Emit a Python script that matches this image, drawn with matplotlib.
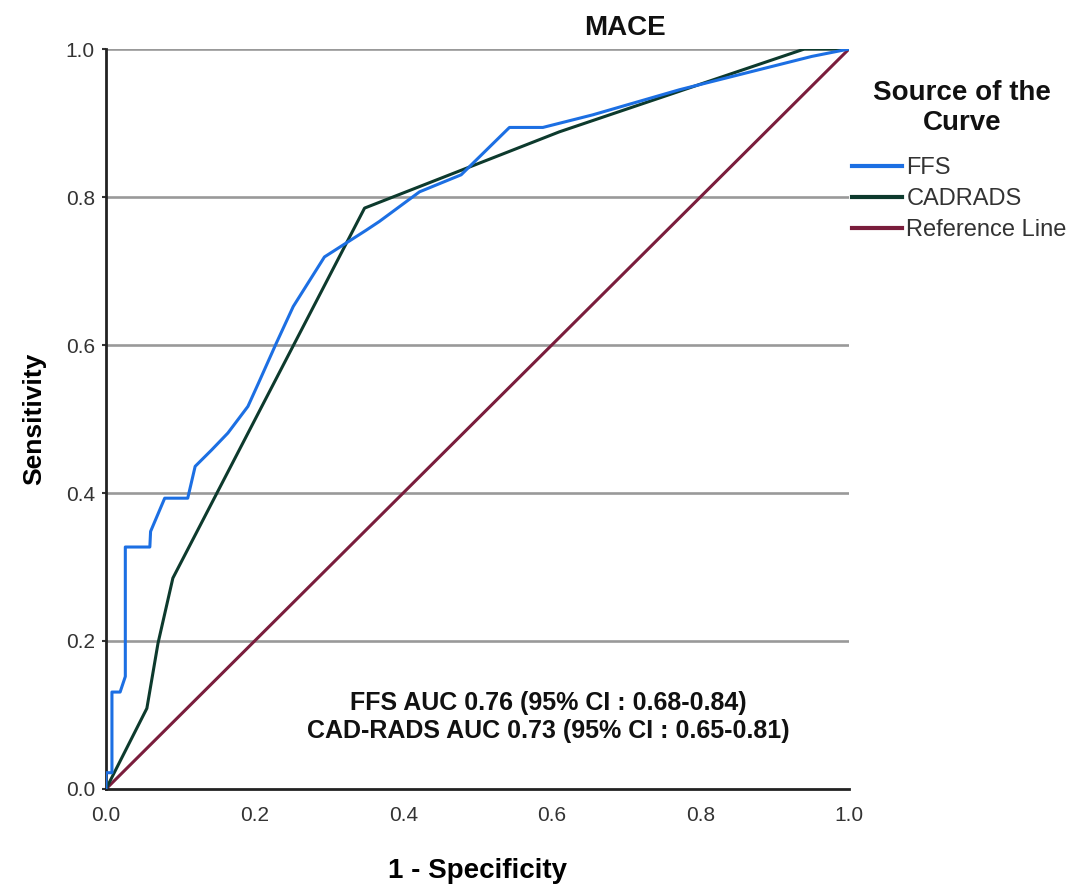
import matplotlib
matplotlib.use("Agg")
import matplotlib.pyplot as plt

plt.rcParams['font.family'] = ['Liberation Sans', 'DejaVu Sans']

# ---- data ----
ffs_fpr = [0.0, 0.0, 0.008, 0.008, 0.019, 0.026, 0.026, 0.059, 0.060, 0.079, 0.110,
           0.120, 0.142, 0.164, 0.191, 0.205, 0.229, 0.252, 0.294, 0.350, 0.368,
           0.422, 0.478, 0.543, 0.588, 0.655, 0.772, 0.950, 1.0]
ffs_tpr = [0.0, 0.022, 0.022, 0.131, 0.131, 0.152, 0.327, 0.327, 0.348, 0.393, 0.393,
           0.436, 0.458, 0.481, 0.517, 0.548, 0.602, 0.652, 0.719, 0.755, 0.767,
           0.807, 0.830, 0.894, 0.894, 0.911, 0.945, 0.990, 1.0]

cad_fpr = [0.0, 0.055, 0.070, 0.090, 0.348, 0.610, 0.940, 1.0]
cad_tpr = [0.0, 0.109, 0.197, 0.285, 0.785, 0.888, 1.0, 1.0]

ref_x = [0.0, 1.0]
ref_y = [0.0, 1.0]

series_labels = ["FFS", "CADRADS", "Reference Line"]
ticks = [0.0, 0.2, 0.4, 0.6, 0.8, 1.0]
tick_labels = ["0.0", "0.2", "0.4", "0.6", "0.8", "1.0"]
annotation = "FFS AUC 0.76 (95% CI : 0.68-0.84)\nCAD-RADS AUC 0.73 (95% CI : 0.65-0.81)"
legend_title = "Source of the\nCurve"

# ---- figure ----
fig = plt.figure(figsize=(10.75, 8.85), dpi=100)
ax = fig.add_axes([106 / 1075, 1 - 789 / 885, (849 - 106) / 1075, (789 - 49) / 885])

for y in ticks[1:]:
    ax.axhline(y, color='#999999', lw=1.9, zorder=1)

ax.plot(ffs_fpr, ffs_tpr, color='#1C6FE3', lw=2.2, label=series_labels[0], zorder=4)
ax.plot(cad_fpr, cad_tpr, color='#0D3A2D', lw=2.2, label=series_labels[1], zorder=3)
ax.plot(ref_x, ref_y, color='#7A1D3C', lw=2.2, label=series_labels[2], zorder=2)

ax.set_xlim(0, 1)
ax.set_ylim(0, 1)
ax.set_xticks(ticks)
ax.set_xticklabels(tick_labels)
ax.set_yticks(ticks)
ax.set_yticklabels(tick_labels)
ax.tick_params(axis='x', length=0, pad=12, labelsize=15, labelcolor='#333333')
ax.tick_params(axis='y', length=3, width=1.5, pad=5, labelsize=15, labelcolor='#333333',
               color='#333333')

for s in ['top', 'right']:
    ax.spines[s].set_visible(False)
for s in ['left', 'bottom']:
    ax.spines[s].set_color('#222222')
    ax.spines[s].set_linewidth(2.0)

ax.set_xlabel("1 - Specificity", fontsize=20, fontweight='bold', labelpad=24)
ax.set_ylabel("Sensitivity", fontsize=19, fontweight='bold', labelpad=14)

fig.text(625 / 1075, 1 - 28 / 885, "MACE", ha='center', va='center',
         fontsize=20, fontweight='bold', color='#111111')

ax.text(0.595, 0.097, annotation, ha='center', va='center', multialignment='center',
        fontsize=18, fontweight='bold', color='#111111', linespacing=1.2,
        transform=ax.transData)

fig.text(962 / 1075, 1 - 108 / 885, legend_title, ha='center', va='center',
         multialignment='center', fontsize=20, fontweight='bold', color='#111111',
         linespacing=1.25)

leg = ax.legend(loc='upper left', bbox_to_anchor=(852 / 1075, 1 - 157 / 885),
                bbox_transform=fig.transFigure, frameon=False,
                fontsize=17, handlelength=2.1,
                handletextpad=0.2, labelspacing=0.38, borderpad=0, borderaxespad=0)
for t in leg.get_texts():
    t.set_color('#333333')
for h in leg.legend_handles:
    h.set_linewidth(3)

fig.savefig("out.png", dpi=100)
